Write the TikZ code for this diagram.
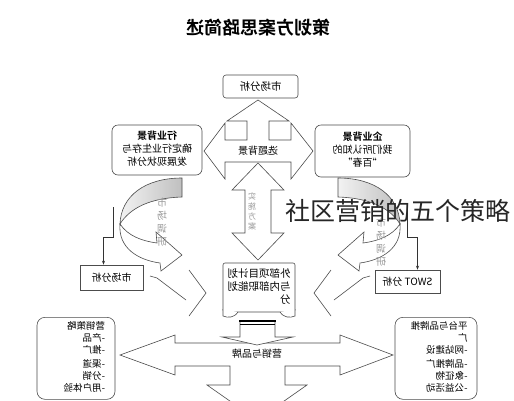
\documentclass[tikz,border=0pt]{standalone}
\usepackage{fontspec}
\setmainfont{Noto Sans CJK SC}[BoldFont={Noto Sans CJK SC Bold}]
\usepackage{graphicx}
\usetikzlibrary{arrows.meta, positioning, calc}
\newcommand{\mir}[1]{\reflectbox{#1}}
\newcommand{\colc}[1]{\begin{tabular}{@{}c@{}}#1\end{tabular}}
\newcommand{\coll}[2]{\begin{tabular}{@{}p{#1}@{}}#2\end{tabular}}

\begin{document}
\begin{tikzpicture}[x=1pt, y=-1pt, font=\fontsize{10}{13}\selectfont,
        bx/.style={draw=black!70, fill=white, rounded corners=6pt,
                   align=center, inner sep=2pt, line width=0.6pt},
        sbx/.style={draw=black!70, fill=white, align=center, line width=0.6pt},
        shp/.style={draw=black!70, fill=white, line width=0.6pt},
        lbl/.style={inner sep=0pt},
        vlbl/.style={inner sep=0pt, text=gray!80},
        cn/.style={draw=black!80, line width=0.5pt, -{Stealth[length=4pt, width=3pt]}}]
        \clip (0,0) rectangle (514,400);
        \fill[white] (0,0) rectangle (514,400);
        % Titre
        \node[font=\fontsize{18}{20}\selectfont\bfseries] (title) at (258,28)
          {\mir{策划方案思路简述}};
        % Croix du haut
        \draw[shp] (258,100) -- (289,121) -- (269,121) -- (269,140) -- (291,140)
          -- (291,123) -- (313,151) -- (291,179) -- (291,162) -- (225,162)
          -- (225,179) -- (204,151) -- (225,123) -- (225,140) -- (247,140)
          -- (247,121) -- (227,121) -- cycle;
        \node[lbl] (bg) at (258,151) {\mir{选题背景}};
        \draw[shp] (258,163) -- (284,190) -- (271,190) -- (271,233) -- (284,233)
          -- (258,260) -- (232,233) -- (245,233) -- (245,190) -- (232,190) -- cycle;
        \node[vlbl, font=\fontsize{8}{10}\selectfont] (impl) at (252,212)
          {\mir{\colc{实\\施\\方\\案}}};
        % Boites du haut
        \node[bx, rounded corners=3pt, minimum width=75, minimum height=23,
              font=\fontsize{10.5}{13}\selectfont] (mkt) at (260.5,86.5) {\mir{市场分析}};
        \node[bx, minimum width=90, minimum height=50] (ind) at (157,150)
          {\mir{\colc{\textbf{行业背景}\\确定行业生存与\\发展现状分析}}};
        \node[bx, minimum width=95, minimum height=52] (corp) at (362.5,151)
          {\mir{\colc{\textbf{企业背景}\\我们所认知的\\“百春”}}};
        % Rubans
        \foreach \sx/\ox in {1/0, -1/520}{
          \begin{scope}[xshift=\ox pt, xscale=\sx]
            \draw[draw=black!70, line width=0.6pt, left color=gray!10, right color=gray!50]
              (182,178) .. controls (145,178) and (121,196) .. (120,224)
              .. controls (130,208) and (150,198) .. (182,197) -- cycle;
            \draw[shp] (120,224) .. controls (128,236) and (142,241) .. (157,243)
              -- (156,232) -- (182,255) -- (161,271) -- (160,263)
              .. controls (138,260) and (118,248) .. (120,224) -- cycle;
            \draw[shp, fill=none] (150,276) -- (157,278) -- (186,300);
            \draw[shp, fill=none] (189,270) -- (206,293) -- (189,316);
          \end{scope}
        }
        \node[vlbl] (surL) at (162,223) {\mir{\colc{市\\场\\调\\研}}};
        \node[vlbl] (surR) at (381,243) {\mir{\colc{市\\场\\调\\研}}};
        % Petites boites
        \node[sbx, minimum width=63, minimum height=25] (mktL) at (111.5,277.5)
          {\mir{市场分析}};
        \node[sbx, minimum width=65, minimum height=23] (swot) at (407.5,281.5)
          {\mir{SWOT 分析}};
        \coordinate (tl) at (113,207);
        \coordinate (tr) at (407,207);
        \draw[cn] (tl) -- ++(0,30) -| ([xshift=-8pt]mktL.north);
        \draw[cn] (tr) -- ++(0,30) -| ([xshift=10pt]swot.north);
        % Plan central
        \node[bx, rounded corners=2pt, minimum width=72, minimum height=49,
              font=\fontsize{10.5}{13}\selectfont] (plan) at (259,287.5)
          {\mir{\coll{63pt}{外部项目计划\\与内部职能划\\分}}};
        \draw[shp] (223,309) -- (223,316) .. controls (228,318) and (234,318) .. (238,312);
        \draw[shp] (295,309) -- (295,316) .. controls (290,318) and (284,318) .. (280,312);
        % Grande fleche
        \draw[shp] (120,355) -- (175,335) -- (175,343) -- (340,343) -- (340,335)
          -- (393,355) -- (340,375) -- (340,366) -- (285,366) -- (285,385)
          -- (307,385) -- (257,420) -- (207,385) -- (230,385) -- (230,366)
          -- (175,366) -- (175,375) -- cycle;
        \draw[shp] (240,321) -- (240,337) -- (222,337) -- (257,345) -- (293,337)
          -- (275,337) -- (275,321);
        \draw[line width=1.4pt] (239,321) -- (276,321);
        \draw[line width=0.8pt] (240,324.5) -- (275,324.5);
        \node[lbl] (mkb) at (257,354) {\mir{营销与品牌}};
        % Boites du bas
        \node[bx, rounded corners=8pt, minimum width=78, anchor=north,
              inner ysep=4pt, inner xsep=0pt, font=\fontsize{9.5}{12}\selectfont]
          (strat) at (76,317)
          {\mir{\coll{58pt}{营销策略\\-产品\\-推广\\[2pt]-渠道\\-分销\\-用户体验}}};
        \node[bx, rounded corners=8pt, minimum width=82, anchor=north,
              inner ysep=4pt, inner xsep=0pt, font=\fontsize{9.5}{12}\selectfont]
          (brand) at (436,317)
          {\mir{\coll{63pt}{平台与品牌推\\广\\-网站建设\\[2pt]-品牌推广\\-象征物\\-公益活动}}};
        % Filigrane
        \node[inner sep=0pt, font=\fontsize{25}{25}\selectfont, text=black!85] (wm)
          at (398,211) {社区营销的五个策略};
      \end{tikzpicture}
\end{document}
